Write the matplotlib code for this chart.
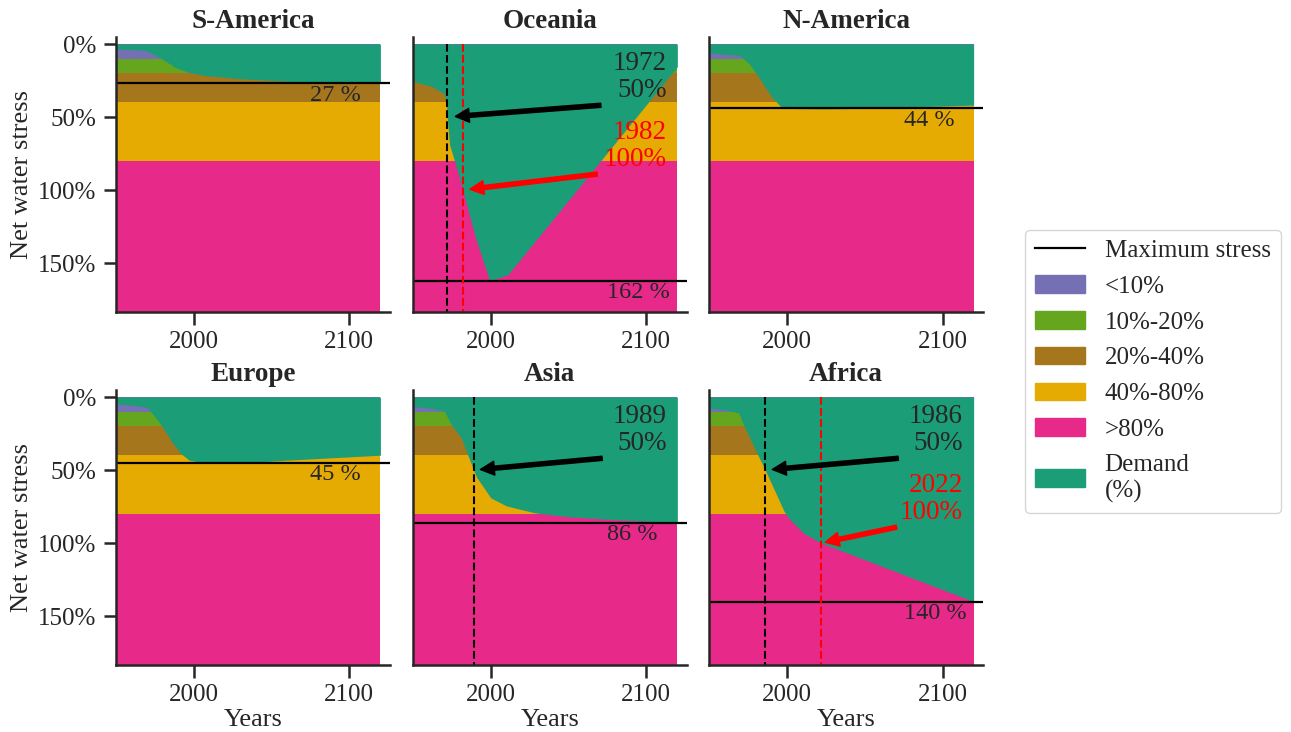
import numpy as np
import matplotlib
matplotlib.use('Agg')
import matplotlib.pyplot as plt
from matplotlib.lines import Line2D
from matplotlib.patches import Patch

plt.rcParams['font.family'] = ['Liberation Serif', 'DejaVu Serif']

# demand (% of water availability) per region
regions = ['S-America', 'Oceania', 'N-America', 'Europe', 'Asia', 'Africa']

years_sam = [1950, 1960, 1968, 1974, 1980, 1988, 1997, 2008, 2030, 2067, 2090, 2120]
demand_sam = [3.5, 3.8, 4.2, 7, 10.5, 16, 19.6, 21.7, 23.8, 25.8, 26.5, 27]

years_oce = [1950, 1962, 1970, 1971.5, 1972, 1973.5, 1977, 1982, 1990, 1999, 2000, 2004, 2011, 2120]
demand_oce = [25.5, 29, 34, 40, 50, 69, 81, 100, 132, 161, 162, 160.5, 158, 15.5]

years_nam = [1950, 1960, 1970, 1972, 1976, 1980, 1985, 1990, 1996, 2005, 2020, 2035, 2050, 2080, 2120]
demand_nam = [6, 7, 8, 10, 14, 20, 28, 36, 43, 44.2, 44.4, 44.3, 44, 43, 41.8]

years_eur = [1950, 1960, 1970, 1972, 1979, 1986, 1992, 1997, 2005, 2015, 2030, 2045, 2060, 2090, 2120]
demand_eur = [4.8, 5.5, 7, 9.5, 19, 31, 39, 43.2, 44.7, 45, 44.9, 44.2, 43.2, 41.5, 39.8]

years_asi = [1950, 1960, 1970, 1975, 1981, 1985, 1989, 1991, 2000, 2010, 2028, 2050, 2080, 2100, 2120]
demand_asi = [6.5, 7.5, 9.5, 19.5, 28, 39, 50, 55, 69, 74.5, 79.2, 82, 84, 85, 86]

years_afr = [1950, 1963, 1969, 1972, 1980, 1986, 1992, 1998, 2001, 2011, 2022, 2120]
demand_afr = [7.5, 9.3, 11, 19, 37, 50, 64, 78, 83, 93.5, 100, 140]

all_years = [years_sam, years_oce, years_nam, years_eur, years_asi, years_afr]
all_demand = [demand_sam, demand_oce, demand_nam, demand_eur, demand_asi, demand_afr]
max_stress = [27, 162, 44, 45, 86, 140]

# year at which demand reaches 50% / 100% (None if never)
year_50 = [None, 1972, None, None, 1989, 1986]
year_100 = [None, 1982, None, None, None, 2022]

# stress classes
band_labels = ['<10%', '10%-20%', '20%-40%', '40%-80%', '>80%']
band_edges = [0, 10, 20, 40, 80, 183.5]
band_colors = ['#7570b3', '#66a61e', '#a6761d', '#e6ab02', '#e7298a']
demand_color = '#1b9e77'
txt_color = '#262626'

fig = plt.figure(figsize=(12.91, 7.32), dpi=100)
lefts = [0.0899, 0.3199, 0.5494]
bottoms = [0.5738, 0.0915]
w, h = 0.212, 0.376

for i, name in enumerate(regions):
    r, c = divmod(i, 3)
    ax = fig.add_axes([lefts[c], bottoms[r], w, h])
    x0, x1 = all_years[i][0], all_years[i][-1]
    for k in range(5):
        ax.fill_between([x0, x1], band_edges[k], band_edges[k + 1],
                        color=band_colors[k], lw=0)
    ax.fill_between(all_years[i], 0, all_demand[i], color=demand_color, lw=0)
    ax.axhline(max_stress[i], color='k', lw=1.6)
    ax.text(2075, max_stress[i] + 12, '%d %%' % max_stress[i], fontsize=17.5,
            ha='left', va='baseline', color=txt_color)

    if year_50[i] is not None:
        ax.vlines(year_50[i], 0, band_edges[-1], colors='k', linestyles='--', lw=1.5)
        ax.annotate('', xy=(year_50[i], 50), xytext=(2076, 41.5),
                    arrowprops=dict(facecolor='k', edgecolor='k', width=3,
                                    headwidth=10, headlength=10, shrink=0.05))
        ax.text(2113, 4.5, '%d\n50%%' % year_50[i], fontsize=19.5, ha='right',
                va='top', multialignment='right', linespacing=1.12, color=txt_color)
    if year_100[i] is not None:
        ax.vlines(year_100[i], 0, band_edges[-1], colors='r', linestyles='--', lw=1.5)
        ax.annotate('', xy=(year_100[i], 100), xytext=(2073, 88.5),
                    arrowprops=dict(facecolor='r', edgecolor='r', width=3,
                                    headwidth=10, headlength=10, shrink=0.05))
        ax.text(2113, 52, '%d\n100%%' % year_100[i], fontsize=19.5, ha='right',
                va='top', multialignment='right', linespacing=1.12, color='r')

    ax.set_xlim(1950, 2126)
    ax.set_ylim(183.5, -5)
    ax.set_xticks([2000, 2100])
    ax.set_yticks([0, 50, 100, 150])
    ax.set_title(name, fontsize=19.5, fontweight='bold', pad=6, color=txt_color)
    for s in ['top', 'right']:
        ax.spines[s].set_visible(False)
    for s in ['left', 'bottom']:
        ax.spines[s].set_linewidth(1.8)
        ax.spines[s].set_color(txt_color)
    ax.tick_params(labelsize=18, length=9, width=1.8, color=txt_color,
                   labelcolor=txt_color, pad=5)
    if c == 0:
        ax.set_yticklabels(['0%', '50%', '100%', '150%'])
        ax.set_ylabel('Net water stress', fontsize=19, color=txt_color)
    else:
        ax.tick_params(axis='y', left=False, labelleft=False)
    if r == 1:
        ax.set_xlabel('Years', fontsize=19, labelpad=2, color=txt_color)

handles = [Line2D([], [], color='k', lw=1.6)]
handles += [Patch(color=col) for col in band_colors]
handles += [Patch(color=demand_color)]
labels = ['Maximum stress'] + band_labels + ['Demand\n(%)']
leg = fig.legend(handles, labels, loc='center left', bbox_to_anchor=(0.784, 0.493),
                 fontsize=18, labelspacing=0.53, handletextpad=0.8, frameon=True,
                 edgecolor='#cccccc')
for t in leg.get_texts():
    t.set_color(txt_color)

fig.savefig('out.png', dpi=100)
